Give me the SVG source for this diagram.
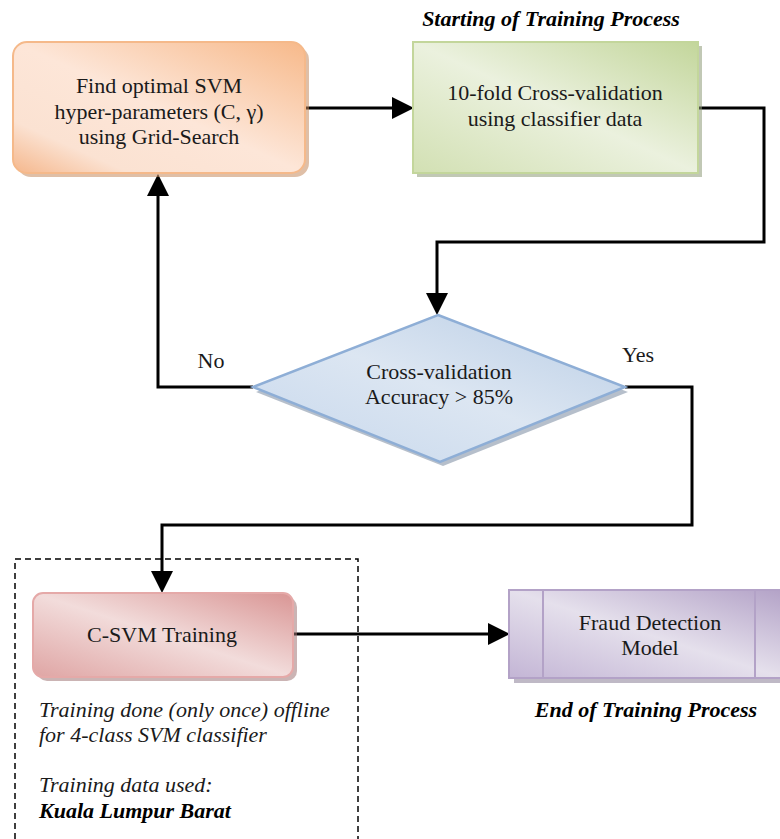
<svg xmlns="http://www.w3.org/2000/svg" width="780" height="839" viewBox="0 0 780 839">
<defs>
<linearGradient id="gO" x1="1" y1="0" x2="0" y2="1"><stop offset="0" stop-color="#f7b98a"/><stop offset="0.5" stop-color="#fde6d8"/><stop offset="0.8" stop-color="#fbe2d2"/><stop offset="1" stop-color="#f5b78c"/></linearGradient>
<linearGradient id="gG" x1="1" y1="0" x2="0" y2="1"><stop offset="0" stop-color="#c3d69b"/><stop offset="0.5" stop-color="#ebf1de"/><stop offset="1" stop-color="#d2e0b3"/></linearGradient>
<linearGradient id="gB" x1="1" y1="0" x2="0" y2="1"><stop offset="0" stop-color="#b9cde5"/><stop offset="0.5" stop-color="#dce6f2"/><stop offset="1" stop-color="#c6d7ec"/></linearGradient>
<linearGradient id="gR" x1="1" y1="0" x2="0" y2="1"><stop offset="0" stop-color="#d99594"/><stop offset="0.5" stop-color="#f2dcdb"/><stop offset="1" stop-color="#dfa5a4"/></linearGradient>
<linearGradient id="gP" x1="1" y1="0" x2="0" y2="1"><stop offset="0" stop-color="#b3a2c7"/><stop offset="0.5" stop-color="#e5e0ec"/><stop offset="1" stop-color="#c3b5d5"/></linearGradient>
<marker id="ah" markerWidth="22" markerHeight="22" refX="18" refY="11" orient="auto" markerUnits="userSpaceOnUse" viewBox="0 0 22 22"><path d="M0,0 L22,11 L0,22 z" fill="#000"/></marker>
<style>
.t{font-size:22px;fill:#1a1a1a;text-anchor:middle}
.i{font-size:22px;font-style:italic;fill:#1a1a1a}
.bi{font-size:22px;font-style:italic;font-weight:bold;fill:#000}
.c{fill:none;stroke:#000;stroke-width:3}
.sh{opacity:0.55}
</style>
</defs>
<g id="dashed-box"><path d="M15,839 V559 H358 V839" fill="none" stroke="#000" stroke-width="1.5" stroke-dasharray="6,4"/></g>
<g id="connectors">
<path class="c" d="M305,108 H410" marker-end="url(#ah)"/>
<path class="c" d="M698,108 H764 V242 H437 V311" marker-end="url(#ah)"/>
<path class="c" d="M253,387 H158 V178" marker-end="url(#ah)"/>
<path class="c" d="M625,387 H692 V525 H162 V589" marker-end="url(#ah)"/>
<path class="c" d="M293,634 H506" marker-end="url(#ah)"/>
</g>
<g font-family="Liberation Serif, serif">
<g id="node-gridsearch">
<rect x="17" y="46" width="292" height="131" rx="14" fill="#c58a5e" class="sh"/>
<rect x="13" y="42" width="292" height="131" rx="14" fill="url(#gO)" stroke="#f5b98a" stroke-width="2"/>
<text class="t" x="159" y="93">Find optimal SVM</text>
<text class="t" x="159" y="119">hyper-parameters (C, γ)</text>
<text class="t" x="159" y="144">using Grid-Search</text>
</g>
<g id="node-crossval">
<rect x="417" y="46" width="285" height="131" fill="#8e9a78" class="sh"/>
<rect x="413" y="42" width="285" height="131" fill="url(#gG)" stroke="#c3d69b" stroke-width="2"/>
<text class="t" x="555" y="100">10-fold Cross-validation</text>
<text class="t" x="555" y="126">using classifier data</text>
<text class="bi" x="551" y="26" text-anchor="middle">Starting of Training Process</text>
</g>
<g id="node-decision">
<polygon points="441,320 628,392 443,466 256,392" fill="#7a8aa0" class="sh"/>
<polygon points="438,315 625,387 440,462 253,387" fill="url(#gB)" stroke="#8eaed6" stroke-width="2.5"/>
<text class="t" x="439" y="379">Cross-validation</text>
<text class="t" x="439" y="404">Accuracy &gt; 85%</text>
</g>
<text class="t" x="211" y="368">No</text>
<text class="t" x="638" y="362">Yes</text>
<g id="node-csvm">
<rect x="37" y="597" width="260" height="84" rx="10" fill="#a07676" class="sh"/>
<rect x="33" y="593" width="260" height="84" rx="10" fill="url(#gR)" stroke="#e5a9a8" stroke-width="2"/>
<text class="t" x="162" y="642">C-SVM Training</text>
</g>
<g id="node-fraud">
<rect x="514" y="594" width="270" height="89" fill="#8a8098" class="sh"/>
<rect x="509" y="590" width="275" height="88" fill="url(#gP)" stroke="#b3a2c7" stroke-width="2"/>
<line x1="543" y1="590" x2="543" y2="678" stroke="#b3a2c7" stroke-width="2"/>
<line x1="755" y1="590" x2="755" y2="678" stroke="#b3a2c7" stroke-width="2"/>
<text class="t" x="650" y="630">Fraud Detection</text>
<text class="t" x="650" y="655">Model</text>
<text class="bi" x="646" y="717" text-anchor="middle">End of Training Process</text>
</g>
<g id="notes">
<text class="i" x="39" y="717">Training done (only once) offline</text>
<text class="i" x="39" y="742">for 4-class SVM classifier</text>
<text class="i" x="39" y="792">Training data used:</text>
<text class="bi" x="39" y="818">Kuala Lumpur Barat</text>
</g>
</g>
</svg>
